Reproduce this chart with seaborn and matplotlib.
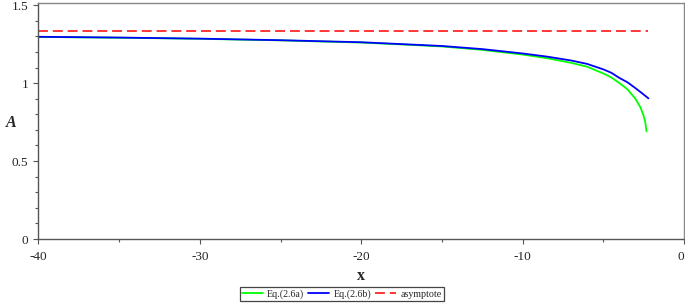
import matplotlib
matplotlib.use("Agg")
import matplotlib.pyplot as plt
import seaborn as sns
from matplotlib.ticker import MultipleLocator

# values
x_b = [-40, -35, -30, -25, -20, -17.5, -15, -12.5, -10, -8.5, -7, -6, -5,
       -4.5, -4, -3.5, -3, -2.6, -2.2]
a_b = [1.297, 1.292, 1.285, 1.275, 1.262, 1.25, 1.238, 1.218, 1.19, 1.17,
       1.145, 1.123, 1.088, 1.066, 1.033, 1.005, 0.967, 0.935, 0.902]

x_g = [-40, -35, -30, -25, -20, -17.5, -15, -12.5, -10, -8.5, -7, -6, -5,
       -4.5, -4, -3.5, -3, -2.7, -2.5, -2.4, -2.32]
a_g = [1.296, 1.291, 1.284, 1.274, 1.26, 1.248, 1.235, 1.213, 1.183, 1.16,
       1.13, 1.105, 1.062, 1.036, 1.0, 0.96, 0.898, 0.845, 0.79, 0.75, 0.69]

x_asym = [-40, -2.2]
a_asym = [4 / 3, 4 / 3]

x_ticks = [-40, -30, -20, -10, 0]
x_labels = ['-40', '-30', '-20', '-10', '0']
y_ticks = [0, 0.5, 1, 1.5]
y_labels = ['0', '0.5', '1', '1.5']

sns.set_style("ticks")
plt.rcParams['font.family'] = ['Liberation Serif', 'DejaVu Serif']
plt.rcParams['axes.unicode_minus'] = False

fig = plt.figure(figsize=(6.85, 3.04), dpi=100)
ax = fig.add_axes([0.0562, 0.2138, 0.9423, 0.777])

sns.lineplot(x=x_g, y=a_g, ax=ax, color='#00ff00', lw=1.3, sort=False,
             estimator=None, label='Eq.(2.6a)')
sns.lineplot(x=x_b, y=a_b, ax=ax, color='#0000ff', lw=1.3, sort=False,
             estimator=None, label='Eq.(2.6b)')
sns.lineplot(x=x_asym, y=a_asym, ax=ax, color='#ff0000', lw=1.1,
             estimator=None, label='asymptote')
ax.lines[-1].set_dashes((6.5, 3.2))

ax.set_xlim(-40, 0)
ax.set_ylim(0, 1.515)
ax.xaxis.set_minor_locator(MultipleLocator(5))
ax.yaxis.set_minor_locator(MultipleLocator(0.1))
ax.set_yticks(y_ticks)
ax.set_yticklabels(y_labels)
ax.set_xticks(x_ticks)
ax.set_xticklabels(x_labels)
ax.get_xticklabels()[-1].set_horizontalalignment('right')

ax.tick_params(which='major', direction='out', length=3.5, width=0.8,
               color='#555555', labelsize=9.5)
ax.tick_params(axis='x', which='major', pad=5)
ax.tick_params(axis='y', which='major', pad=4)
ax.tick_params(which='minor', direction='out', length=2.5, width=0.8,
               color='#555555')

for side in ['left', 'bottom']:
    ax.spines[side].set_color('#555555')
    ax.spines[side].set_linewidth(1.0)
for side in ['top', 'right']:
    ax.spines[side].set_visible(True)
    ax.spines[side].set_color('#888888')
    ax.spines[side].set_linewidth(1.0)

ax.set_xlabel('x', fontsize=11.5, fontweight='bold', labelpad=4)
ax.set_ylabel('')
fig.text(11 / 685, 1 - 123 / 304, 'A', fontsize=11.5, fontweight='bold',
         style='italic', ha='center', va='center')

ax.legend(loc='center', bbox_to_anchor=(0.499, 0.033),
          bbox_transform=fig.transFigure, ncol=3, fontsize=7.2,
          frameon=True, fancybox=False, edgecolor='#444444',
          handlelength=2.1, handletextpad=0.4, columnspacing=0.4,
          borderpad=0.25, borderaxespad=0, framealpha=1)
ax.get_legend().get_frame().set_linewidth(0.9)

fig.savefig('out.png', dpi=100)
